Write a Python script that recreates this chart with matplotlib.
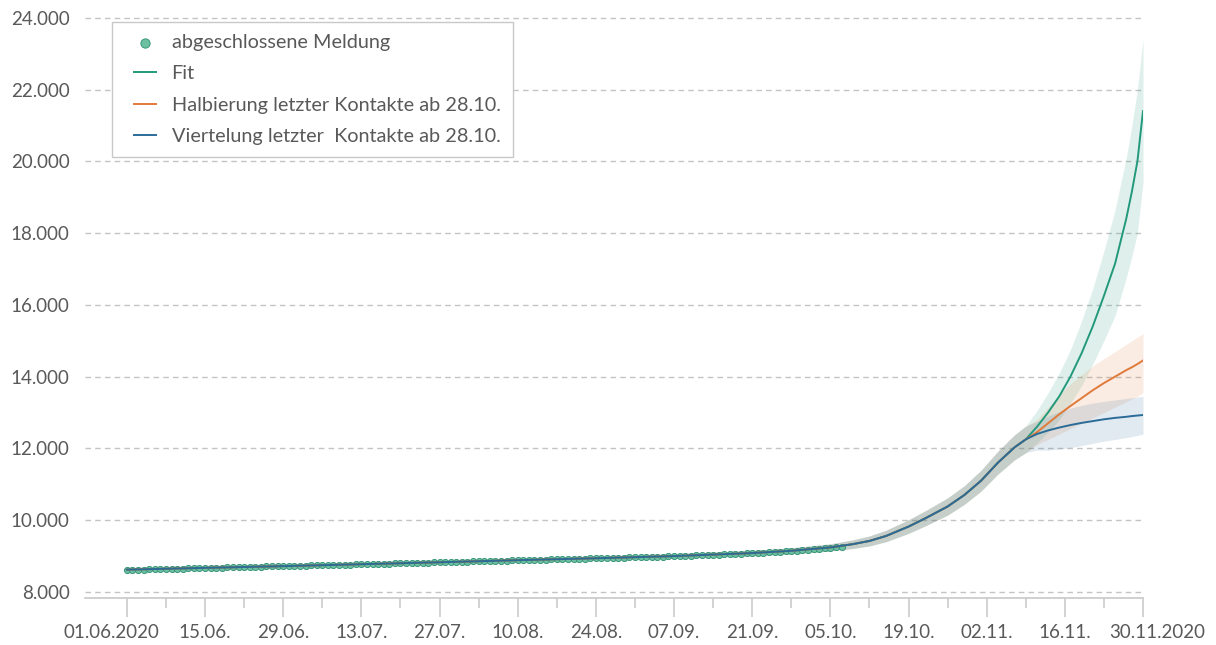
import matplotlib
matplotlib.use("Agg")
import matplotlib.pyplot as plt
import matplotlib.dates as mdates
import matplotlib.transforms as mtransforms
from matplotlib.ticker import FuncFormatter, FixedLocator
from matplotlib.legend_handler import HandlerLine2D, HandlerPathCollection
from matplotlib.lines import Line2D
from matplotlib.collections import PathCollection
import pandas as pd
import numpy as np

# ---------------- data ----------------
scatter_start = "2020-06-01"
scatter_vals = [
    8600, 8610, 8615, 8620, 8625, 8628, 8632,
    8636, 8640, 8645, 8650, 8655, 8660, 8664,
    8668, 8672, 8676, 8680, 8684, 8688, 8690,
    8694, 8698, 8702, 8706, 8710, 8712, 8715,
    8718, 8722, 8726, 8730, 8735, 8738, 8740,
    8744, 8748, 8752, 8756, 8760, 8763, 8766,
    8770, 8774, 8778, 8782, 8786, 8790, 8792,
    8796, 8800, 8804, 8808, 8812, 8816, 8820,
    8824, 8828, 8833, 8838, 8842, 8846, 8850,
    8854, 8858, 8862, 8866, 8870, 8874, 8878,
    8882, 8886, 8890, 8894, 8898, 8902, 8905,
    8908, 8912, 8916, 8920, 8924, 8928, 8932,
    8936, 8940, 8944, 8948, 8952, 8956, 8960,
    8964, 8968, 8972, 8976, 8980, 8985, 8990,
    8995, 9000, 9006, 9012, 9018, 9024, 9030,
    9036, 9042, 9048, 9054, 9060, 9066, 9072,
    9080, 9088, 9096, 9104, 9112, 9120, 9130,
    9140, 9150, 9160, 9172, 9184, 9196, 9210,
    9225, 9240, 9260,
]

hist_dates = ["2020-06-01", "2020-06-15", "2020-06-29", "2020-07-13", "2020-07-27",
              "2020-08-10", "2020-08-24", "2020-09-07", "2020-09-21", "2020-09-28",
              "2020-10-05", "2020-10-09", "2020-10-12", "2020-10-15", "2020-10-19",
              "2020-10-22", "2020-10-26", "2020-10-29", "2020-11-01", "2020-11-04",
              "2020-11-07", "2020-11-09"]
hist_vals = [8620, 8670, 8718, 8772, 8826, 8884, 8938, 8998, 9082, 9145, 9240,
             9330, 9420, 9560, 9820, 10050, 10380, 10700, 11100, 11600, 12030, 12250]
hist_halfwidth = [60, 60, 60, 60, 60, 60, 60, 65, 75, 85, 100,
                  120, 140, 160, 190, 210, 240, 260, 290, 320, 350, 370]

scen_dates = ["2020-11-11", "2020-11-13", "2020-11-15", "2020-11-17", "2020-11-19",
              "2020-11-21", "2020-11-23", "2020-11-25", "2020-11-27", "2020-11-28",
              "2020-11-29", "2020-11-30"]
fit_vals = [12600, 13000, 13450, 14000, 14650, 15400, 16250, 17150, 18400, 19150, 20000, 21400]
fit_lo = [12150, 12450, 12800, 13250, 13750, 14350, 15000, 15700, 16750, 17350, 18000, 19400]
fit_hi = [13050, 13550, 14100, 14750, 15550, 16450, 17500, 18650, 20100, 21000, 22000, 23400]
half_vals = [12450, 12700, 12950, 13180, 13400, 13620, 13820, 14000, 14180, 14260, 14350, 14450]
half_lo = [12100, 12250, 12400, 12550, 12700, 12850, 13000, 13150, 13300, 13380, 13450, 13550]
half_hi = [12800, 13150, 13500, 13800, 14050, 14300, 14500, 14700, 14900, 15000, 15100, 15200]
quarter_vals = [12400, 12500, 12580, 12650, 12710, 12760, 12810, 12850, 12880, 12900, 12915, 12930]
quarter_lo = [11950, 11950, 11980, 12020, 12080, 12140, 12200, 12250, 12300, 12330, 12360, 12400]
quarter_hi = [12750, 12900, 13020, 13120, 13200, 13260, 13310, 13350, 13390, 13410, 13430, 13450]

xtick_dates = ["2020-06-01", "2020-06-15", "2020-06-29", "2020-07-13", "2020-07-27",
               "2020-08-10", "2020-08-24", "2020-09-07", "2020-09-21", "2020-10-05",
               "2020-10-19", "2020-11-02", "2020-11-16", "2020-11-30"]
xtick_labels = ["01.06.2020", "15.06.", "29.06.", "13.07.", "27.07.", "10.08.", "24.08.",
                "07.09.", "21.09.", "05.10.", "19.10.", "02.11.", "16.11.", "30.11.2020"]
yticks = [8000, 10000, 12000, 14000, 16000, 18000, 20000, 22000, 24000]

labels = ["abgeschlossene Meldung", "Fit", "Halbierung letzter Kontakte ab 28.10.",
          "Viertelung letzter  Kontakte ab 28.10."]

# ---------------- styling ----------------
C_FIT = "#23997c"
C_ORANGE = "#e07a3a"
C_BLUE = "#2b6b98"
C_TEXT = "#595959"
C_GRID = "#c4c4c4"

plt.rcParams["font.family"] = ["Lato", "DejaVu Sans"]

fig = plt.figure(figsize=(12.16, 6.45), dpi=100)
ax = fig.add_axes([85 / 1216, 47 / 645, (1143 - 85) / 1216, (629 - 47) / 645])

sc_x = pd.date_range(scatter_start, periods=len(scatter_vals), freq="D")
hx = pd.to_datetime(hist_dates)
sx = pd.to_datetime(scen_dates)
hv = np.array(hist_vals, float)
hw = np.array(hist_halfwidth, float)

all_x = hx.append(sx)

def full(vals):
    return np.concatenate([hv, np.array(vals, float)])

def full_lo(vals):
    return np.concatenate([hv - hw, np.array(vals, float)])

def full_hi(vals):
    return np.concatenate([hv + hw, np.array(vals, float)])

# bands
ax.fill_between(all_x, full_lo(fit_lo), full_hi(fit_hi), color=C_FIT, alpha=0.14, lw=0, zorder=2)
ax.fill_between(all_x, full_lo(half_lo), full_hi(half_hi), color=C_ORANGE, alpha=0.14, lw=0, zorder=2)
ax.fill_between(all_x, full_lo(quarter_lo), full_hi(quarter_hi), color=C_BLUE, alpha=0.14, lw=0, zorder=2)

# grid
for y in yticks:
    ax.axhline(y, color=C_GRID, lw=1.0, ls=(0, (4, 3)), zorder=1)

# scatter
ax.scatter(sc_x, scatter_vals, s=20, facecolor="#6cc0a0", edgecolor="#2d8f74",
           linewidth=0.6, zorder=3, label=labels[0])

# lines
ax.plot(all_x, full(fit_vals), color=C_FIT, lw=1.4, zorder=4, label=labels[1])
ax.plot(all_x, full(half_vals), color=C_ORANGE, lw=1.4, zorder=5, label=labels[2])
ax.plot(all_x, full(quarter_vals), color=C_BLUE, lw=1.4, zorder=6, label=labels[3])

# axes
ax.set_ylim(7830, 24050)
ax.set_xlim(pd.Timestamp("2020-06-01") - pd.Timedelta(days=7.5), pd.Timestamp("2020-11-30"))
for s in ["left", "right", "top"]:
    ax.spines[s].set_visible(False)
ax.spines["bottom"].set_color("#c8c8c8")
ax.spines["bottom"].set_linewidth(1.2)

ax.set_yticks(yticks)
ax.yaxis.set_major_formatter(FuncFormatter(lambda v, p: f"{int(v):,}".replace(",", ".")))
ax.tick_params(axis="y", length=0, pad=11, labelsize=13.5, labelcolor=C_TEXT)

major = mdates.date2num(pd.to_datetime(xtick_dates))
ax.xaxis.set_major_locator(FixedLocator(major))
ax.xaxis.set_minor_locator(FixedLocator((major[:-1] + major[1:]) / 2))
ax.set_xticklabels(xtick_labels)
ax.tick_params(axis="x", which="major", length=14, width=1.1, color="#c8c8c8",
               pad=5, labelsize=13.5, labelcolor=C_TEXT)
ax.tick_params(axis="x", which="minor", length=7, width=1.1, color="#c8c8c8")

# first and last labels sit slightly outward, as in the reference
xt = ax.get_xticklabels()
xt[0].set_transform(xt[0].get_transform() + mtransforms.ScaledTranslation(-15 / 100, 0, fig.dpi_scale_trans))
xt[-1].set_transform(xt[-1].get_transform() + mtransforms.ScaledTranslation(14 / 100, 0, fig.dpi_scale_trans))

leg = ax.legend(loc="upper left", bbox_to_anchor=(112 / 1216, 1 - 22 / 645),
                bbox_transform=fig.transFigure, fontsize=14.3, frameon=True,
                fancybox=False, edgecolor="#c8c8c8", framealpha=1,
                labelspacing=0.73, handlelength=1.6, handletextpad=0.8,
                borderpad=0.6, borderaxespad=0, markerscale=1.5,
                handler_map={Line2D: HandlerLine2D(xpad=0.5),
                             PathCollection: HandlerPathCollection(xpad=0.5)})
for t in leg.get_texts():
    t.set_color(C_TEXT)
leg.get_frame().set_linewidth(1.0)

fig.savefig("out.png", dpi=100)
